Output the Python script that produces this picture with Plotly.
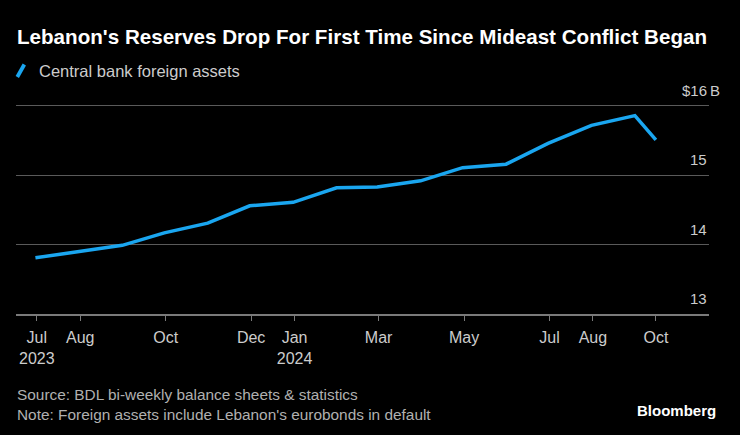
import plotly.graph_objects as go

# ---- data ----
dates = ["2023-06-30", "2023-07-31", "2023-08-31", "2023-09-30", "2023-10-31",
         "2023-11-30", "2023-12-31", "2024-01-31", "2024-02-29", "2024-03-31",
         "2024-04-30", "2024-05-31", "2024-06-30", "2024-07-31", "2024-08-31",
         "2024-09-15"]
assets = [13.81, 13.90, 13.99, 14.17, 14.31, 14.56, 14.61, 14.82, 14.83, 14.92,
          15.11, 15.16, 15.46, 15.72, 15.86, 15.51]

x_tick_vals = ["2023-07-01", "2023-08-01", "2023-10-01", "2023-12-01", "2024-01-01",
               "2024-03-01", "2024-05-01", "2024-07-01", "2024-08-01", "2024-09-15"]
x_tick_text = ["Jul<br>2023", "Aug", "Oct", "Dec", "Jan<br>2024",
               "Mar", "May", "Jul", "Aug", "Oct"]
y_tick_vals = [13, 14, 15, 16]
y_tick_text = ["13", "14", "15", "$16"]

title = "Lebanon's Reserves Drop For First Time Since Mideast Conflict Began"
legend_label = "Central bank foreign assets"
source = "Source: BDL bi-weekly balance sheets &amp; statistics"
note = "Note: Foreign assets include Lebanon's eurobonds in default"

# ---- layout geometry ----
W, H = 740, 435
ML, MR, MT, MB = 16, 31, 99, 121
PW, PH = W - ML - MR, H - MT - MB
BLUE = "#1aa6f0"
FONT = "Liberation Sans, Arial, sans-serif"


def px(x):
    return (x - ML) / PW


def py(y):
    return (H - MB - y) / PH


fig = go.Figure()
fig.add_trace(go.Scatter(x=dates, y=assets, mode="lines",
                         line=dict(color=BLUE, width=3.5),
                         showlegend=False, hoverinfo="skip"))

ann = []
ann.append(dict(text="<b>" + title + "</b>", x=px(15), y=py(36), xref="paper", yref="paper",
                xanchor="left", yanchor="middle", showarrow=False,
                font=dict(family=FONT, size=20.6, color="#ffffff")))
ann.append(dict(text=legend_label, x=px(37), y=py(71), xref="paper", yref="paper",
                xanchor="left", yanchor="middle", showarrow=False,
                font=dict(family=FONT, size=16.5, color="#cccccc")))
for v, t in zip(y_tick_vals, y_tick_text):
    ann.append(dict(text=t, x=1, y=v, xref="paper", yref="y",
                    xanchor="right", yanchor="bottom", yshift=5, showarrow=False,
                    font=dict(family=FONT, size=15, color="#cccccc")))
ann.append(dict(text="B", x=1, y=y_tick_vals[-1], xref="paper", yref="y",
                xanchor="left", yanchor="bottom", yshift=5, xshift=-1, showarrow=False,
                font=dict(family=FONT, size=15, color="#cccccc")))
ann.append(dict(text=source + "<br>" + note, x=px(15), y=py(404), xref="paper", yref="paper",
                xanchor="left", yanchor="middle", align="left", showarrow=False,
                font=dict(family=FONT, size=15.4, color="#b0b0b0")))
ann.append(dict(text="<b>Bloomberg</b>", x=px(718), y=py(410), xref="paper", yref="paper",
                xanchor="right", yanchor="middle", showarrow=False,
                font=dict(family=FONT, size=15, color="#ffffff")))

shapes = [dict(type="line", xref="paper", yref="paper",
               x0=px(17.3), y0=py(77), x1=px(24.3), y1=py(64.5),
               line=dict(color=BLUE, width=3.8))]

fig.update_layout(
    width=W, height=H,
    margin=dict(l=ML, r=MR, t=MT, b=MB, pad=0),
    paper_bgcolor="#000000", plot_bgcolor="#000000",
    font=dict(family=FONT, color="#cccccc"),
    annotations=ann, shapes=shapes,
    xaxis=dict(type="date", range=["2023-06-16 03:00", "2024-10-22 22:00"],
               tickvals=x_tick_vals, ticktext=x_tick_text,
               showgrid=False, zeroline=False,
               showline=True, linecolor="#7a7a7a", linewidth=1.5,
               ticks="outside", ticklen=5, tickcolor="#7a7a7a", tickwidth=1,
               ticklabelstandoff=3,
               tickfont=dict(family=FONT, size=16, color="#cccccc")),
    yaxis=dict(range=[13, 16.1], tickvals=y_tick_vals, showticklabels=False,
               showgrid=True, gridcolor="#5a5a5a", gridwidth=1.2, zeroline=False),
)

fig.write_html("out.html",
               config={"displayModeBar": False},
               post_script="document.body.style.margin='0';document.body.style.background='#000';")
